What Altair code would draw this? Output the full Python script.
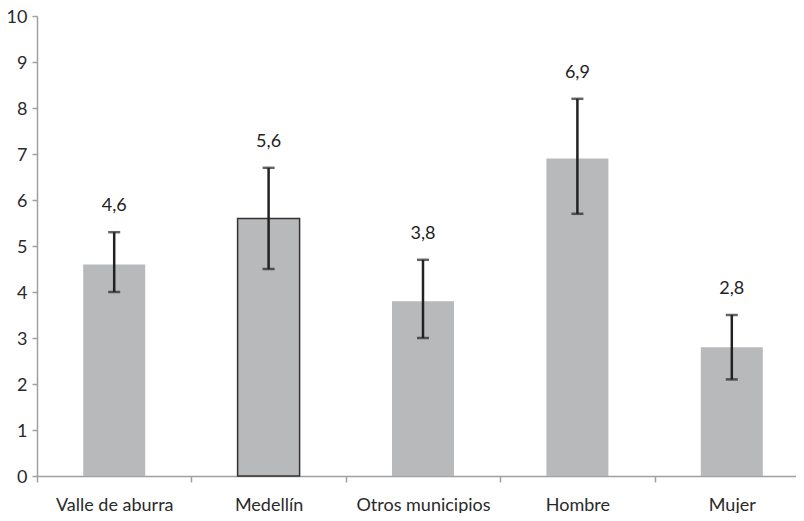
import altair as alt
import pandas as pd

categories = ["Valle de aburra", "Medellín", "Otros municipios", "Hombre", "Mujer"]
values = [4.6, 5.6, 3.8, 6.9, 2.8]
lower = [4.0, 4.5, 3.0, 5.7, 2.1]
upper = [5.3, 6.7, 4.7, 8.2, 3.5]
labels = ["4,6", "5,6", "3,8", "6,9", "2,8"]
outlined = [False, True, False, False, False]

df = pd.DataFrame({
    "cat": categories, "val": values, "lo": lower, "hi": upper,
    "lab": labels, "outl": outlined,
})

FONT = "Lato"
FS = 18
xs = alt.Scale(domain=categories, range=[0, 772], paddingInner=0, paddingOuter=0)
ys = alt.Scale(domain=[0, 10])

xaxis = alt.Axis(ticks=True, tickBand="extent", labelAngle=0,
                 tickSize=6, tickColor="#A0A0A0", domainColor="#A0A0A0",
                 domainWidth=1.5, tickWidth=1.5, labelPadding=14,
                 labelFont=FONT, labelFontSize=FS, labelColor="#2a2a2a")
yaxis = alt.Axis(values=list(range(0, 11)), grid=False, tickSize=5,
                 tickColor="#A0A0A0", domainColor="#A0A0A0", domainWidth=1.5,
                 tickWidth=1.5, labelPadding=5, labelFont=FONT, labelOffset=1,
                 labelFontSize=FS, labelColor="#2a2a2a")


def X():
    return alt.X("cat:N", scale=xs, sort=categories, title=None, axis=xaxis)


def Y(field):
    return alt.Y(field, scale=ys, title=None, axis=yaxis)


bars = alt.Chart(df).mark_bar(size=62, color="#B8B9BB").encode(
    x=X(), y=Y("val:Q"),
    stroke=alt.condition("datum.outl", alt.value("#333333"), alt.value(None)),
    strokeWidth=alt.value(1.5),
)

rules = alt.Chart(df).mark_rule(color="#222222", strokeWidth=2.5).encode(
    x=X(), y=Y("lo:Q"), y2="hi:Q",
)
cap_lo = alt.Chart(df).mark_tick(color="#222222", size=12, thickness=2.5).encode(
    x=X(), y=Y("lo:Q"))
cap_hi = alt.Chart(df).mark_tick(color="#222222", size=12, thickness=2.5).encode(
    x=X(), y=Y("hi:Q"))

text = alt.Chart(df).mark_text(dy=-26, font=FONT, fontSize=FS, color="#222222").encode(
    x=X(), y=Y("hi:Q"), text="lab:N")

chart = alt.layer(bars, rules, cap_lo, cap_hi, text).properties(
    width=759, height=460,
    autosize=alt.AutoSizeParams(type="none"),
    padding={"left": 29, "top": 8, "right": 0, "bottom": 37},
).configure_view(stroke=None)

chart.save("out.html", embed_options={"renderer": "svg", "actions": False})
